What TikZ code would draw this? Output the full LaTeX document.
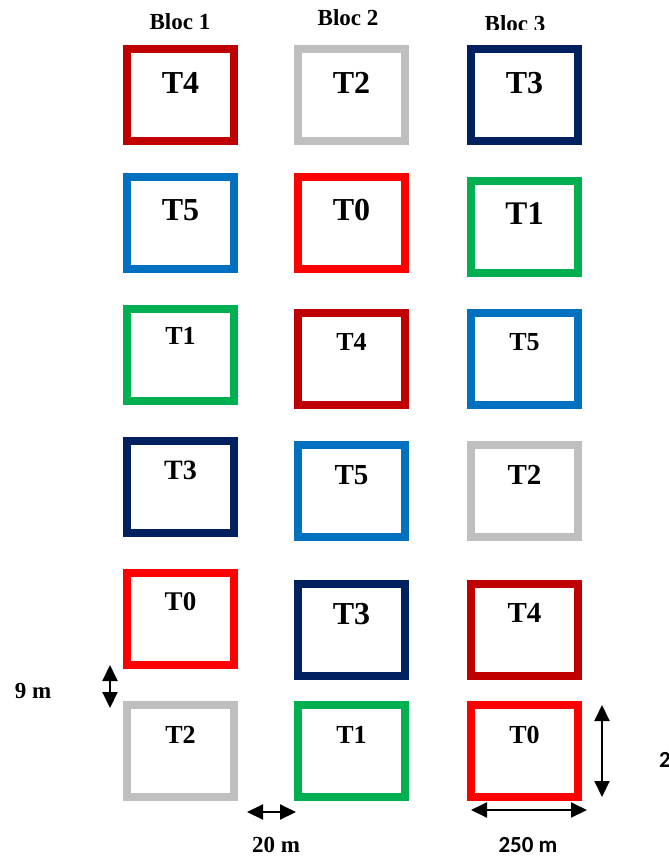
\documentclass[tikz,border=0pt]{standalone}
\usepackage{fontspec}
\setmainfont{Liberation Serif}
\newfontfamily\calib{Carlito}
\usetikzlibrary{arrows.meta}
\definecolor{cdred}{HTML}{C00000}
\definecolor{cgray}{HTML}{BFBFBF}
\definecolor{cnavy}{HTML}{002060}
\definecolor{cblue}{HTML}{0070C0}
\definecolor{cred}{HTML}{FF0000}
\definecolor{cgreen}{HTML}{00B050}
\begin{document}
\begin{tikzpicture}[x=1pt,y=-1pt,
  box/.style={draw=#1, line width=8pt, minimum width=107pt, minimum height=92pt, inner sep=0pt, outer sep=0pt},
  lab/.style={font=\bfseries\fontsize{#1pt}{#1pt}\selectfont, inner sep=0pt},
  dim/.style={line width=2pt, {Triangle[length=16pt,width=15pt]}-{Triangle[length=16pt,width=15pt]}}]
\clip (0,0) rectangle (669,859);
\fill[white] (0,0) rectangle (669,859);
% headers
\node[lab=23] (h1) at (180,21.5) {Bloc 1};
\node[lab=23] (h2) at (348,18) {Bloc 2};
\begin{scope}
\clip (440,0) rectangle (600,30);
\node[lab=23] (h3) at (515,23.5) {Bloc 3};
\end{scope}
% row 1
\node[box=cdred] (b11) at (180.5,95) {};
\node[box=cgray] (b12) at (351.5,95) {};
\node[box=cnavy] (b13) at (524.5,95) {};
\node[lab=32] (t11) at (180.5,83) {T4};
\node[lab=32] (t12) at (351.5,83) {T2};
\node[lab=32] (t13) at (524.5,83) {T3};
% row 2
\node[box=cblue] (b21) at (180.5,223) {};
\node[box=cred] (b22) at (351.5,223) {};
\node[box=cgreen] (b23) at (524.5,227) {};
\node[lab=32] (t21) at (180.5,210) {T5};
\node[lab=32] (t22) at (351.5,210) {T0};
\node[lab=33] (t23) at (524.5,214) {T1};
% row 3
\node[box=cgreen] (b31) at (180.5,355) {};
\node[box=cdred] (b32) at (351.5,359) {};
\node[box=cblue] (b33) at (524.5,359) {};
\node[lab=26] (t31) at (180.5,336) {T1};
\node[lab=26] (t32) at (351.5,342) {T4};
\node[lab=26] (t33) at (524.5,342) {T5};
% row 4
\node[box=cnavy] (b41) at (180.5,487) {};
\node[box=cblue] (b42) at (351.5,491) {};
\node[box=cgray] (b43) at (524.5,491) {};
\node[lab=28] (t41) at (180.5,470) {T3};
\node[lab=29] (t42) at (351.5,475) {T5};
\node[lab=29] (t43) at (524.5,475) {T2};
% row 5
\node[box=cred] (b51) at (180.5,619) {};
\node[box=cnavy] (b52) at (351.5,630) {};
\node[box=cdred] (b53) at (524.5,630) {};
\node[lab=27] (t51) at (180.5,602) {T0};
\node[lab=32] (t52) at (351.5,614) {T3};
\node[lab=29] (t53) at (524.5,613) {T4};
% row 6
\node[box=cgray] (b61) at (180.5,751) {};
\node[box=cgreen] (b62) at (351.5,751) {};
\node[box=cred] (b63) at (524.5,751) {};
\node[lab=26] (t61) at (180.5,735) {T2};
\node[lab=26] (t62) at (351.5,735) {T1};
\node[lab=26] (t63) at (524.5,735) {T0};
% dimension arrows
\coordinate (a1s) at (110,665);
\coordinate (a1e) at (110,708);
\draw[dim] (a1s) -- (a1e);
\node[lab=23] (l1) at (33,691) {9 m};
\coordinate (a2s) at (247,812);
\coordinate (a2e) at (296,812);
\draw[dim] (a2s) -- (a2e);
\node[lab=23] (l2) at (276,845) {20 m};
\coordinate (a3s) at (471,810);
\coordinate (a3e) at (587,810);
\draw[dim] (a3s) -- (a3e);
\node[lab=23, font=\calib\bfseries\fontsize{23pt}{23pt}\selectfont] (l3) at (528,845) {250 m};
\coordinate (a4s) at (602,705);
\coordinate (a4e) at (602,797);
\draw[dim] (a4s) -- (a4e);
\node[lab=23, font=\calib\bfseries\fontsize{23pt}{23pt}\selectfont, anchor=west] (l4) at (659,760) {250 m};
\end{tikzpicture}
\end{document}
